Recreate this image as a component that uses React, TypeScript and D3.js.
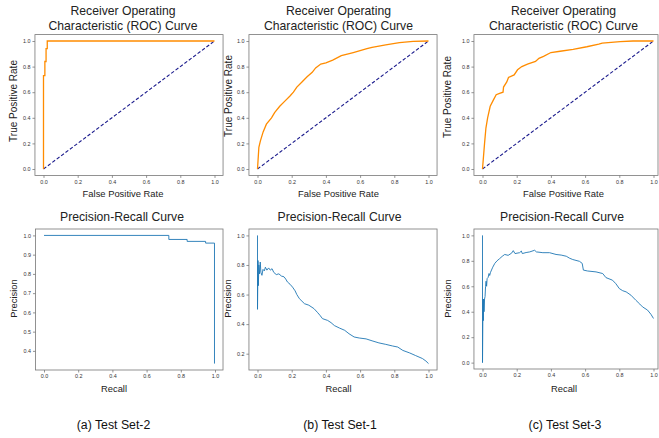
import React, { useRef, useEffect } from 'react';
import * as d3 from 'd3';

// ROC curves [fpr, tpr]
const rocSet2 = [
  [0, 0], [0, 0.73], [0.008, 0.73], [0.008, 0.84], [0.015, 0.84], [0.015, 0.94],
  [0.022, 0.94], [0.022, 1.0], [1, 1]
];
const rocSet1 = [
  [0, 0], [0.008, 0.17], [0.017, 0.22], [0.033, 0.29], [0.052, 0.35], [0.082, 0.4],
  [0.1, 0.44], [0.13, 0.49], [0.16, 0.53], [0.19, 0.57], [0.21, 0.6], [0.23, 0.64],
  [0.26, 0.68], [0.29, 0.72], [0.32, 0.755], [0.34, 0.79], [0.37, 0.82], [0.4, 0.83],
  [0.44, 0.85], [0.49, 0.885], [0.56, 0.91], [0.64, 0.94], [0.67, 0.95], [0.75, 0.97],
  [0.83, 0.987], [0.91, 0.997], [1, 1]
];
const rocSet3 = [
  [0, 0], [0.012, 0.2], [0.02, 0.32], [0.03, 0.4], [0.045, 0.49], [0.064, 0.54],
  [0.08, 0.58], [0.1, 0.59], [0.12, 0.6], [0.123, 0.64], [0.142, 0.68], [0.152, 0.715],
  [0.185, 0.735], [0.205, 0.775], [0.23, 0.8], [0.263, 0.82], [0.31, 0.84], [0.33, 0.865],
  [0.357, 0.88], [0.4, 0.91], [0.454, 0.92], [0.53, 0.935], [0.61, 0.955], [0.68, 0.975],
  [0.7, 0.984], [0.805, 0.995], [0.88, 1.0], [1, 1]
];

// Precision-recall curves [recall, precision]
const prSet2 = [
  [0, 1.0], [0.73, 1.0], [0.73, 0.979], [0.837, 0.979], [0.837, 0.969], [0.945, 0.969],
  [0.945, 0.96], [0.997, 0.96], [0.997, 0.334]
];
const prSet1 = [
  [0, 1.0], [0, 0.5], [0.003, 0.83], [0.005, 0.66], [0.008, 0.8], [0.012, 0.74],
  [0.016, 0.82], [0.02, 0.75], [0.026, 0.73], [0.032, 0.77], [0.04, 0.76], [0.046, 0.785],
  [0.055, 0.765], [0.065, 0.78], [0.075, 0.765], [0.085, 0.775], [0.095, 0.75], [0.11, 0.735],
  [0.125, 0.74], [0.14, 0.725], [0.155, 0.72], [0.165, 0.705], [0.175, 0.685], [0.19, 0.67],
  [0.205, 0.65], [0.22, 0.625], [0.23, 0.6], [0.245, 0.572], [0.26, 0.555], [0.275, 0.538],
  [0.3, 0.528], [0.33, 0.505], [0.35, 0.48], [0.365, 0.46], [0.38, 0.437], [0.41, 0.425],
  [0.43, 0.41], [0.45, 0.39], [0.48, 0.373], [0.51, 0.358], [0.535, 0.335], [0.565, 0.313],
  [0.595, 0.306], [0.635, 0.3], [0.67, 0.287], [0.71, 0.273], [0.75, 0.263], [0.79, 0.252],
  [0.82, 0.245], [0.85, 0.222], [0.89, 0.205], [0.925, 0.187], [0.965, 0.167], [0.985, 0.15],
  [1.0, 0.133]
];
const prSet3 = [
  [0, 1.0], [0, 0.0], [0.003, 0.5], [0.005, 0.33], [0.007, 0.5], [0.009, 0.4], [0.012, 0.5],
  [0.015, 0.52], [0.018, 0.6], [0.021, 0.64], [0.024, 0.6], [0.027, 0.66], [0.033, 0.67],
  [0.038, 0.7], [0.042, 0.685], [0.047, 0.71], [0.06, 0.75], [0.072, 0.78], [0.085, 0.8],
  [0.1, 0.817], [0.115, 0.835], [0.13, 0.85], [0.15, 0.843], [0.17, 0.86], [0.18, 0.88],
  [0.19, 0.857], [0.217, 0.864], [0.227, 0.877], [0.233, 0.857], [0.255, 0.865], [0.276, 0.87],
  [0.305, 0.883], [0.315, 0.87], [0.353, 0.864], [0.392, 0.864], [0.43, 0.85], [0.46, 0.845],
  [0.49, 0.836], [0.51, 0.82], [0.528, 0.81], [0.567, 0.796], [0.583, 0.78], [0.59, 0.727],
  [0.615, 0.72], [0.664, 0.713], [0.703, 0.7], [0.722, 0.668], [0.76, 0.648], [0.78, 0.62],
  [0.8, 0.582], [0.82, 0.565], [0.84, 0.556], [0.868, 0.53], [0.897, 0.49], [0.92, 0.46],
  [0.936, 0.438], [0.965, 0.413], [0.985, 0.38], [1.0, 0.347]
];

const captions = ['(a) Test Set-2', '(b) Test Set-1', '(c) Test Set-3'];
const rocTicks = [0, 0.2, 0.4, 0.6, 0.8, 1.0];
const pr2YTicks = [0.4, 0.5, 0.6, 0.7, 0.8, 0.9, 1.0];
const pr1YTicks = [0.2, 0.4, 0.6, 0.8, 1.0];
const pr3YTicks = [0, 0.2, 0.4, 0.6, 0.8, 1.0];

const FONT = '"Liberation Sans", Arial, sans-serif';

export default function App() {
  const svgRef = useRef(null);

  useEffect(() => {
    const svg = d3.select(svgRef.current);
    svg.selectAll('*').remove();

    // matplotlib-style 5% padding around data
    const padded = (vals) => {
      const [lo, hi] = d3.extent(vals);
      const m = (hi - lo) * 0.05;
      return [lo - m, hi + m];
    };

    const panels = [
      { kind: 'roc', data: rocSet2, x0: 43.5, top: 34.6, bottom: 175.4, yTicks: rocTicks, cx: 123, ylx: 13.5, yly: 101 },
      { kind: 'roc', data: rocSet1, x0: 257.5, top: 34.6, bottom: 175.4, yTicks: rocTicks, cx: 338.5, ylx: 228, yly: 96 },
      { kind: 'roc', data: rocSet3, x0: 482.5, top: 34.6, bottom: 175.4, yTicks: rocTicks, cx: 563.5, ylx: 447.5, yly: 97 },
      { kind: 'pr', data: prSet2, x0: 44, top: 229, bottom: 370, yTicks: pr2YTicks, cx: 122, xlc: 114, ylx: 13.5, yly: 298.5 },
      { kind: 'pr', data: prSet1, x0: 257.5, top: 229, bottom: 370, yTicks: pr1YTicks, cx: 339.5, xlc: 338.5, ylx: 228, yly: 298.5 },
      { kind: 'pr', data: prSet3, x0: 482.5, top: 229, bottom: 369, yTicks: pr3YTicks, cx: 562, xlc: 564, ylx: 447.5, yly: 298.5 }
    ];
    const unit = 171;

    panels.forEach(p => {
      const xDom = padded(p.data.map(d => d[0]));
      const yDom = padded(p.data.map(d => d[1]));
      const xScale = d3.scaleLinear().domain(xDom)
        .range([p.x0 + xDom[0] * unit, p.x0 + xDom[1] * unit]);
      const yScale = d3.scaleLinear().domain(yDom).range([p.bottom, p.top]);

      const left = xScale(xDom[0]);
      const right = Math.min(xScale(xDom[1]), 658);

      const g = svg.append('g');

      // axes
      const fmt = d3.format('.1f');
      const xAxis = g.append('g')
        .attr('transform', `translate(0,${p.bottom})`)
        .call(d3.axisBottom(xScale).tickValues(rocTicks).tickFormat(fmt).tickSize(2.5).tickPadding(2));
      const yAxis = g.append('g')
        .attr('transform', `translate(${left},0)`)
        .call(d3.axisLeft(yScale).tickValues(p.yTicks).tickFormat(fmt).tickSize(2.5).tickPadding(2));
      [xAxis, yAxis].forEach(a => {
        a.select('.domain').remove();
        a.selectAll('line').attr('stroke', '#666').attr('stroke-width', 0.7);
        a.selectAll('text').attr('font-family', FONT).attr('font-size', 5.4).attr('fill', '#333');
      });

      // curves
      const line = d3.line().x(d => xScale(d[0])).y(d => yScale(d[1]));
      if (p.kind === 'roc') {
        g.append('path')
          .datum([[0, 0], [1, 1]])
          .attr('d', line)
          .attr('fill', 'none')
          .attr('stroke', '#1a1a8c')
          .attr('stroke-width', 1.1)
          .attr('stroke-dasharray', '3.5 2');
        g.append('path')
          .datum(p.data)
          .attr('d', line)
          .attr('fill', 'none')
          .attr('stroke', 'darkorange')
          .attr('stroke-width', 1.3);
      } else {
        g.append('path')
          .datum(p.data)
          .attr('d', line)
          .attr('fill', 'none')
          .attr('stroke', '#1f77b4')
          .attr('stroke-width', 0.9);
      }

      // frame
      g.append('rect')
        .attr('x', left)
        .attr('y', p.top)
        .attr('width', right - left)
        .attr('height', p.bottom - p.top)
        .attr('fill', 'none')
        .attr('stroke', '#777')
        .attr('stroke-width', 0.8);

      // titles and labels
      if (p.kind === 'roc') {
        g.append('text').attr('x', p.cx).attr('y', 15).text('Receiver Operating');
        g.append('text').attr('x', p.cx).attr('y', 29.5).text('Characteristic (ROC) Curve');
        g.append('text').attr('x', p.cx).attr('y', 197).attr('font-size', 9.4).text('False Positive Rate');
        g.append('text')
          .attr('transform', `translate(${p.ylx + 3.6},${p.yly}) rotate(-90)`)
          .attr('font-size', 10)
          .text('True Positive Rate');
      } else {
        g.append('text').attr('x', p.cx).attr('y', 221).text('Precision-Recall Curve');
        g.append('text').attr('x', p.xlc).attr('y', 391.5).attr('font-size', 9.4).text('Recall');
        g.append('text')
          .attr('transform', `translate(${p.ylx + 3.4},${p.yly}) rotate(-90)`)
          .attr('font-size', 9.4)
          .text('Precision');
      }
      g.selectAll(':scope > text')
        .attr('text-anchor', 'middle')
        .attr('font-family', FONT)
        .attr('fill', '#222')
        .each(function () {
          if (!d3.select(this).attr('font-size')) d3.select(this).attr('font-size', 12.2);
        });
    });

    // sub-figure captions
    svg.selectAll('.caption')
      .data(captions)
      .join('text')
      .attr('class', 'caption')
      .attr('x', (d, i) => [113.5, 340, 565][i])
      .attr('y', 429)
      .attr('text-anchor', 'middle')
      .attr('font-family', FONT)
      .attr('font-size', 12.3)
      .attr('fill', '#111')
      .text(d => d);
  }, []);

  return (
    <svg ref={svgRef} width={659} height={438}
      style={{ position: 'absolute', left: 0, top: 0, background: '#fff' }} />
  );
}
